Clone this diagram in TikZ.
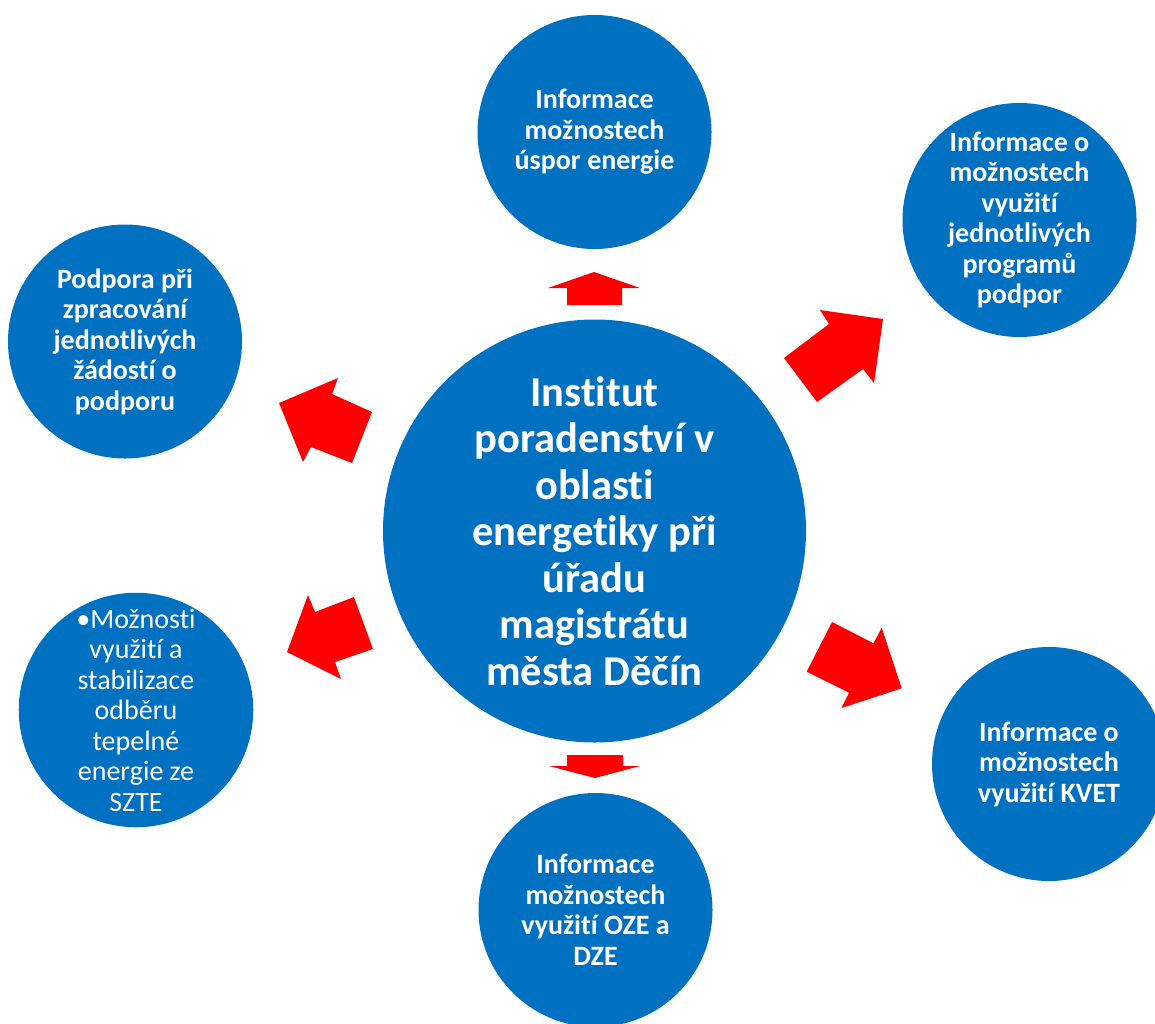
\documentclass[tikz,border=0pt]{standalone}
\usepackage{fontspec}
\setmainfont{Carlito}[Ligatures=NoCommon]
\definecolor{circblue}{RGB}{0,112,192}
\definecolor{arrred}{RGB}{255,0,0}
\begin{document}
\begin{tikzpicture}[x=1pt,y=-1pt,
  bub/.style={circle,fill=circblue,draw=none,inner sep=0pt,minimum size=234pt,
    text=white,align=center,font=\fontsize{28}{30.5}\selectfont\bfseries},
  bubreg/.style={bub,font=\fontsize{28}{30.5}\selectfont},
  hub/.style={circle,fill=circblue,draw=none,inner sep=0pt,minimum size=423pt,
    text=white,align=center,font=\fontsize{42.5}{46.5}\selectfont\bfseries},
  blockarrow/.style={fill=arrred,draw=none}]
\useasboundingbox (0,0) rectangle (1155,1023);
\fill[white] (0,0) rectangle (1155,1023);

\node[hub] (hub) at (594.5,531) {Institut\\poradenství v\\oblasti\\energetiky při\\úřadu\\magistrátu\\města Děčín};

\node[bub] (top) at (594.5,132) {Informace\\možnostech\\úspor energie};
\node[bub] (tr) at (1019.5,220) {Informace o\\možnostech\\využití\\jednotlivých\\programů\\podpor};
\node[bub] (br) at (1049,764) {Informace o\\možnostech\\využití KVET};
\node[bub] (bot) at (595.5,910) {Informace\\možnostech\\využití OZE a\\DZE};
\node[bubreg] (bl) at (136,710) {•Možnosti\\využití a\\stabilizace\\odběru\\tepelné\\energie ze\\SZTE};
\node[bub] (tl) at (125,341.5) {Podpora při\\zpracování\\jednotlivých\\žádostí o\\podporu};

% block arrows
\fill[blockarrow] (567,305) -- (567,288) -- (548,288) -- (594,272) -- (640,288) -- (622,288) -- (622,305) -- cycle;
\fill[blockarrow] (567,755) -- (623,755) -- (623,766) -- (640,766) -- (595,778) -- (549,766) -- (567,766) -- cycle;
\fill[blockarrow] (784,358) -- (829,324) -- (820,310) -- (883,319) -- (874,383) -- (863,369) -- (817,402) -- cycle;
\fill[blockarrow] (372,412) -- (332,394) -- (338,378) -- (279,403) -- (303,462) -- (311,447) -- (352,463) -- cycle;
\fill[blockarrow] (354,597) -- (315,612) -- (308,595) -- (287,652) -- (341,679) -- (335,662) -- (373,649) -- cycle;
\fill[blockarrow] (832,622) -- (873.5,643.3) -- (881.7,627.7) -- (901.7,688.3) -- (841.3,708.1) -- (849.1,692.7) -- (806.7,671.7) -- cycle;
\end{tikzpicture}
\end{document}
